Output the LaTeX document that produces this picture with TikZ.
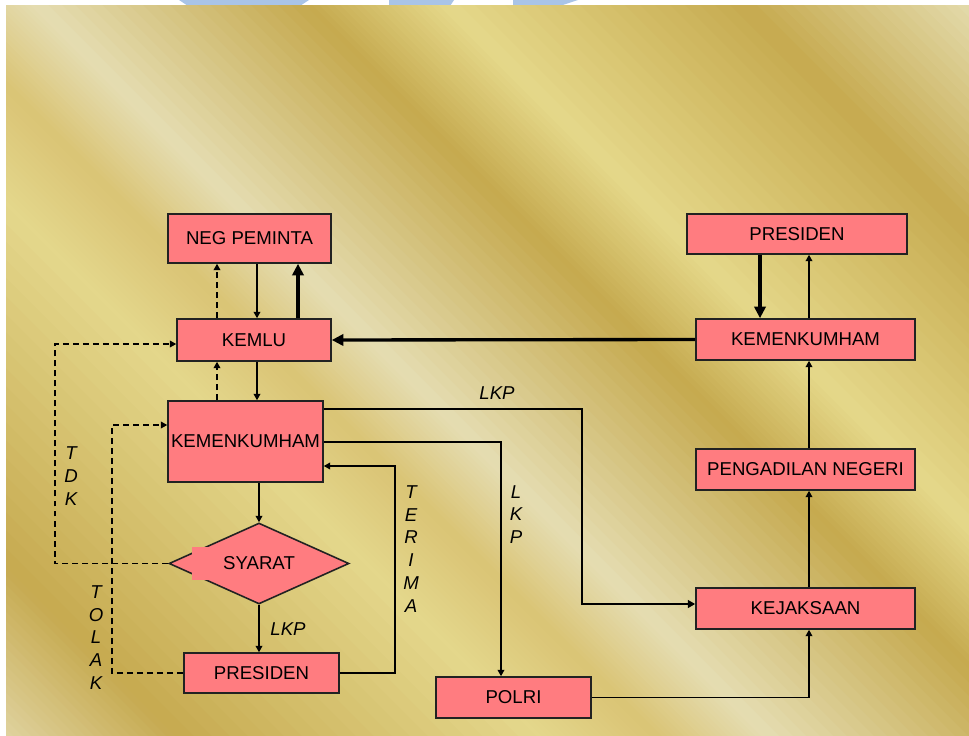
\documentclass[tikz,border=0pt]{standalone}
\usepackage{fontspec}
\setmainfont{Liberation Sans}
\usetikzlibrary{arrows.meta,shapes.geometric,calc}

% colours of the gold backdrop and the boxes
\definecolor{boxpink}{HTML}{FF7C80}
\definecolor{boxline}{HTML}{222222}
\definecolor{markblue}{HTML}{A9C4E7}
\definecolor{goldA}{HTML}{E1D5A3}
\definecolor{goldB}{HTML}{C6AA50}
\definecolor{goldC}{HTML}{E4D78C}
\definecolor{goldD}{HTML}{DAC475}
\definecolor{goldE}{HTML}{E5DDB2}
\definecolor{goldF}{HTML}{C5A94E}
\definecolor{goldG}{HTML}{E5D88A}
\definecolor{goldH}{HTML}{C6AA4F}
\definecolor{goldI}{HTML}{E5DDB0}

\begin{document}
\begin{tikzpicture}[x=0.02cm,y=-0.02cm,
	box/.style={draw=boxline,line width=0.9pt,fill=boxpink,inner sep=0pt,
		font=\fontsize{10.6}{12.7}\selectfont},
	syaratshape/.style={diamond,aspect=2.22,draw=boxline,line width=0.9pt,fill=boxpink,
		inner sep=0pt,minimum width=3.6cm,minimum height=1.62cm,font=\fontsize{10.6}{12.7}\selectfont},
	lbl/.style={inner sep=0pt,align=center,font=\fontsize{10.6}{13}\selectfont\itshape},
	arr/.style={line width=0.75pt,-{Triangle[length=3.6pt,width=3.8pt]}},
	arrdash/.style={arr,dash pattern=on 3.4pt off 2.3pt},
	arrmid/.style={line width=1.3pt,-{Triangle[length=4.2pt,width=4.4pt]}},
	arrbold/.style={line width=1.9pt,-{Triangle[length=6.6pt,width=6.4pt]}}]

	% Fix the page and paint it white
	\useasboundingbox (0,0) rectangle (969,736);
	\fill[white] (0,0) rectangle (969,736);

	% Draw the bits of the blue mark above the backdrop
	\fill[markblue] (179,0) -- (309,0) -- (300,6) -- (188,6) -- cycle;
	\fill[markblue] (389,0) -- (454,0) -- (450,6) -- (389,6) -- cycle;
	\fill[markblue] (513,0) -- (578,0) -- (560,6) -- (513,6) -- cycle;

	% Draw the gold backdrop as slanted strips
	\begin{scope}
		\clip (6,6) rectangle (969,736);
		\foreach \ua/\ub/\ca/\cb in {-740/-560/goldA/goldB, -560/-200/goldB/goldC,
			-200/-80/goldC/goldD, -80/30/goldD/goldE, 30/300/goldE/goldF,
			300/440/goldF/goldG, 440/740/goldG/goldH, 740/975/goldH/goldI}{
			\foreach \t in {0,...,19}{
				\pgfmathsetmacro{\uu}{\ua+(\ub-\ua)*\t/20}
				\pgfmathsetmacro{\uv}{\ua+(\ub-\ua)*(\t+1)/20+1}
				\pgfmathtruncatemacro{\pp}{\t*5+2}
				\fill[\cb!\pp!\ca] (\uu,0) -- (\uv,0) -- (\uv+740,740) -- (\uu+740,740) -- cycle;
			}
		}
	\end{scope}

	% Draw the boxes on the left side
	\node[box,minimum width=3.26cm,minimum height=0.98cm] (negpeminta) at (249.5,238.5) {NEG PEMINTA};
	\node[box,minimum width=3.08cm,minimum height=0.84cm] (kemlu) at (254,340) {KEMLU};
	\node[box,minimum width=3.10cm,minimum height=1.62cm] (kumhamL) at (245.5,441.5) {KEMENKUMHAM};
	\node[syaratshape] (syarat) at (259,563.5) {SYARAT};
	\fill[boxpink] (192,547) rectangle (212,580);
	\node[box,minimum width=3.10cm,minimum height=0.80cm] (presidenL) at (261.5,673) {PRESIDEN};
	\node[box,minimum width=3.10cm,minimum height=0.82cm] (polri) at (513.5,697.5) {POLRI};

	% Draw the boxes on the right side
	\node[box,minimum width=4.40cm,minimum height=0.80cm] (presidenR) at (797,234) {PRESIDEN};
	\node[box,minimum width=4.38cm,minimum height=0.82cm] (kumhamR) at (805.5,339.5) {KEMENKUMHAM};
	\node[box,minimum width=4.38cm,minimum height=0.82cm] (pengadilan) at (805.5,469.5) {PENGADILAN NEGERI};
	\node[box,minimum width=4.38cm,minimum height=0.82cm] (kejaksaan) at (805.5,608.5) {KEJAKSAAN};

	% Columns and corners the lines run through
	\coordinate (colDash) at (217,0);
	\coordinate (colThin) at (257,0);
	\coordinate (colBold) at (298,0);
	\coordinate (colRbold) at (760,0);
	\coordinate (colRthin) at (809,0);
	\coordinate (tdk) at (55,344);
	\coordinate (tolak) at (112,425);
	\coordinate (terima) at (395,466);
	\coordinate (lkpA) at (582,409);
	\coordinate (lkpB) at (582,604);
	\coordinate (lkpC) at (501,442);

	% Lines between NEG PEMINTA, KEMLU and KEMENKUMHAM
	\draw[arr] (negpeminta.south -| colThin) -- (kemlu.north -| colThin);
	\draw[arrdash] (kemlu.north -| colDash) -- (negpeminta.south -| colDash);
	\draw[arrbold] (kemlu.north -| colBold) -- (negpeminta.south -| colBold);
	\draw[arr] (kemlu.south -| colThin) -- (kumhamL.north -| colThin);
	\draw[arrdash] (kumhamL.north -| colDash) -- (kemlu.south -| colDash);

	% Lines round SYARAT and PRESIDEN
	\draw[arr] (kumhamL.south -| syarat.north) -- (syarat.north);
	\draw[arr] (syarat.south) -- (presidenL.north -| syarat.south);
	\draw[arrdash] (syarat.west) -| (tdk) -- (kemlu.west |- tdk);
	\draw[arrdash] (presidenL.west) -| (tolak) -- (kumhamL.west |- tolak);
	\draw[arr] (presidenL.east) -| (terima) -- (kumhamL.east |- terima);

	% Lines out to KEJAKSAAN and POLRI
	\draw[arrmid] (kumhamL.east |- lkpA) -- (lkpA) -- (lkpB) -- (kejaksaan.west |- lkpB);
	\draw[arr] (kumhamL.east |- lkpC) -- (lkpC) -- (polri.north -| lkpC);
	\draw[arr] (polri.east) -| (kejaksaan.south -| colRthin);

	% Lines up the right column
	\draw[arr] (kejaksaan.north -| colRthin) -- (pengadilan.south -| colRthin);
	\draw[arr] (pengadilan.north -| colRthin) -- (kumhamR.south -| colRthin);
	\draw[arr] (kumhamR.north -| colRthin) -- (presidenR.south -| colRthin);
	\draw[arrbold] (presidenR.south -| colRbold) -- (kumhamR.north -| colRbold);
	\draw[arrbold] (kumhamR.west) -- (kemlu.east);

	% Labels on the lines
	\node[lbl] (lblTdk) at (71,476) {T\\D\\K};
	\node[lbl] (lblTolak) at (96,637.5) {T\\O\\L\\A\\K};
	\node[lbl] (lblTerima) at (411,549) {T\\E\\R\\I\\M\\A};
	\node[lbl] (lblLkpS) at (288,629) {LKP};
	\node[lbl] (lblLkpT) at (497,393) {LKP};
	\node[lbl] (lblLkpV) at (516,514.5) {L\\K\\P};

\end{tikzpicture}
\end{document}
